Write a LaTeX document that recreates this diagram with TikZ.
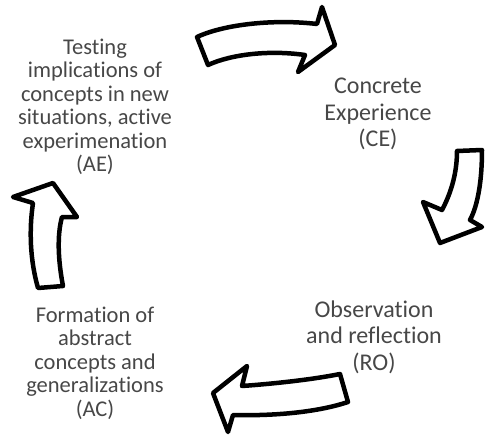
\documentclass[tikz,border=0pt]{standalone}
\usepackage{fontspec}
\setmainfont{Carlito}[Ligatures=NoCommon]
\begin{document}
\begin{tikzpicture}[x=1pt,y=-1pt,
  arrowshape/.style={draw=black, line width=4.5pt, line join=round, fill=white},
  smalltext/.style={align=center, text=black!72, inner sep=0pt, font=\fontsize{22.5}{23.5}\selectfont},
  bigtext/.style={align=center, text=black!72, inner sep=0pt, font=\fontsize{24}{26.5}\selectfont}]
\useasboundingbox (0,0) rectangle (485,436);
% top arrow (AE -> CE)
\draw[arrowshape] (197,37) .. controls (225,24) and (275,19) .. (317,24)
  -- (322,7) -- (335,45) -- (298,72) -- (305,55)
  .. controls (270,50) and (232,54) .. (208,65) -- cycle;
% right arrow (CE -> RO)
\draw[arrowshape] (457,151) -- (482,150)
  .. controls (482,180) and (478,205) .. (470,220)
  -- (482,227) -- (440,243) -- (423,202) -- (442,210)
  .. controls (450,195) and (457,175) .. cycle;
% bottom arrow (RO -> AC)
\draw[arrowshape] (340,374) .. controls (310,380) and (270,384) .. (242,386)
  -- (247,366) -- (213,393) -- (228,432) -- (233,415)
  .. controls (270,416) and (315,413) .. (348,402) -- cycle;
% left arrow (AC -> AE)
\draw[arrowshape] (38,288) .. controls (30,260) and (29,230) .. (33,203)
  -- (13,197) -- (53,183) -- (77,217) -- (62,217)
  .. controls (57,235) and (58,260) .. (63,286) -- cycle;
% labels
\node[smalltext] (ae) at (95,107) {Testing\\implications of\\concepts in new\\situations, active\\experimenation\\(AE)};
\node[bigtext] (ce) at (378,114) {Concrete\\Experience\\(CE)};
\node[bigtext] (ro) at (374,337) {Observation\\and reflection\\(RO)};
\node[smalltext] (ac) at (95,363) {Formation of\\abstract\\concepts and\\generalizations\\(AC)};
\end{tikzpicture}
\end{document}
